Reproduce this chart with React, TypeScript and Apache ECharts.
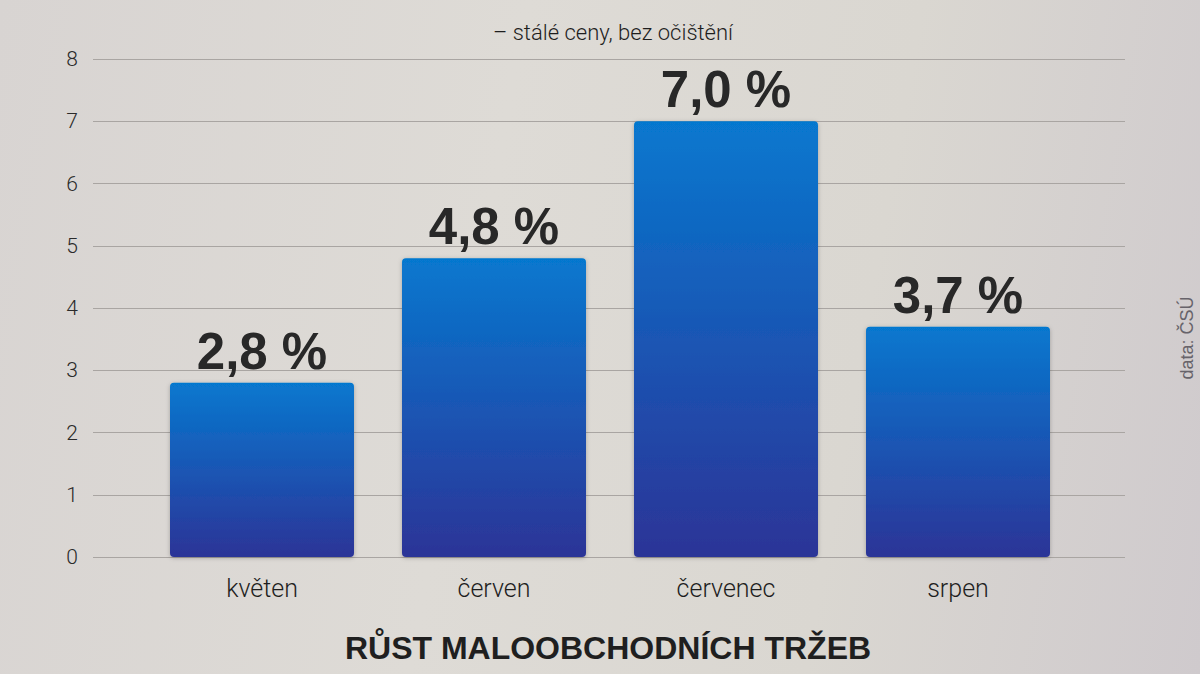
import React, { useEffect, useRef } from "react";
import * as echarts from "echarts";

const categories = ["květen", "červen", "červenec", "srpen"];
const values = [2.8, 4.8, 7.0, 3.7];
const yMin = 0;
const yMax = 8;
const yInterval = 1;
const titleText = "RŮST MALOOBCHODNÍCH TRŽEB";
const subtitleText = "– stálé ceny, bez očištění";
const sourceText = "data: ČSÚ";

const FONT = "'Liberation Sans', Arial, Helvetica, sans-serif";
const LIGHT = "Roboto, 'Liberation Sans', Arial, sans-serif";

export default function App() {
  const ref = useRef<HTMLDivElement>(null);
  useEffect(() => {
    document.body.style.margin = "0";
    const chart = echarts.init(ref.current!, null, { renderer: "svg" });
    chart.setOption({
      animation: false,
      textStyle: { fontFamily: FONT },
      title: [
        {
          text: titleText,
          left: 603,
          textAlign: "center",
          top: 627,
          textStyle: { fontFamily: FONT, fontSize: 32, fontWeight: "bold", color: "#1f1f1f" },
        },
        {
          text: subtitleText,
          left: 608,
          textAlign: "center",
          top: 16,
          textStyle: { fontFamily: LIGHT, fontSize: 22, fontWeight: 300, color: "#1e1e1e" },
        },
      ],
      graphic: [
        {
          type: "text",
          x: 1187,
          y: 338,
          rotation: Math.PI / 2,
          style: {
            text: sourceText,
            fontFamily: FONT,
            fontSize: 18,
            fontWeight: "normal",
            fill: "#67636a",
            textAlign: "center",
            textVerticalAlign: "middle",
          },
        },
      ],
      grid: [
        { left: 93, right: 75, top: 59, bottom: 117 },
        { left: 146, right: 126, top: 59, bottom: 117 },
      ],
      xAxis: [
        { type: "category", gridIndex: 0, data: ["a"], show: false },
        {
          type: "category",
          gridIndex: 1,
          data: categories,
          axisLine: { show: false },
          axisTick: { show: false },
          axisLabel: { fontFamily: LIGHT, fontWeight: 300, fontSize: 25, color: "#1e1e1e", margin: 19 },
        },
      ],
      yAxis: [
        {
          type: "value",
          gridIndex: 0,
          min: yMin,
          max: yMax,
          interval: yInterval,
          axisLine: { show: false },
          axisTick: { show: false },
          axisLabel: { fontFamily: LIGHT, fontWeight: 300, fontSize: 21, color: "#2a2a2a", margin: 15 },
          splitLine: { lineStyle: { color: "#a9a5a2", width: 1 } },
        },
        {
          type: "value",
          gridIndex: 1,
          min: yMin,
          max: yMax,
          interval: yInterval,
          show: false,
          splitLine: { show: false },
        },
      ],
      series: [
        {
          type: "bar",
          xAxisIndex: 1,
          yAxisIndex: 1,
          data: values,
          barWidth: 184,
          itemStyle: {
            borderRadius: 4,
            color: new echarts.graphic.LinearGradient(0, 0, 0, 1, [
              { offset: 0, color: "#0678cf" },
              { offset: 0.5, color: "#1a56b4" },
              { offset: 1, color: "#2c3497" },
            ]),
            shadowColor: "rgba(0,0,0,0.25)",
            shadowBlur: 4,
            shadowOffsetY: 1,
          },
          label: {
            show: true,
            position: "top",
            distance: 6,
            fontFamily: FONT,
            fontSize: 51,
            fontWeight: "bold",
            color: "#282828",
            formatter: (p: any) => p.value.toFixed(1).replace(".", ",") + " %",
          },
        },
      ],
    });
    return () => chart.dispose();
  }, []);
  return (
    <div
      ref={ref}
      style={{
        width: 1200,
        height: 674,
        background: "linear-gradient(100deg, #d8d4d2 0%, #dedbd6 40%, #dad7d1 70%, #cfcacd 100%)",
      }}
    />
  );
}
